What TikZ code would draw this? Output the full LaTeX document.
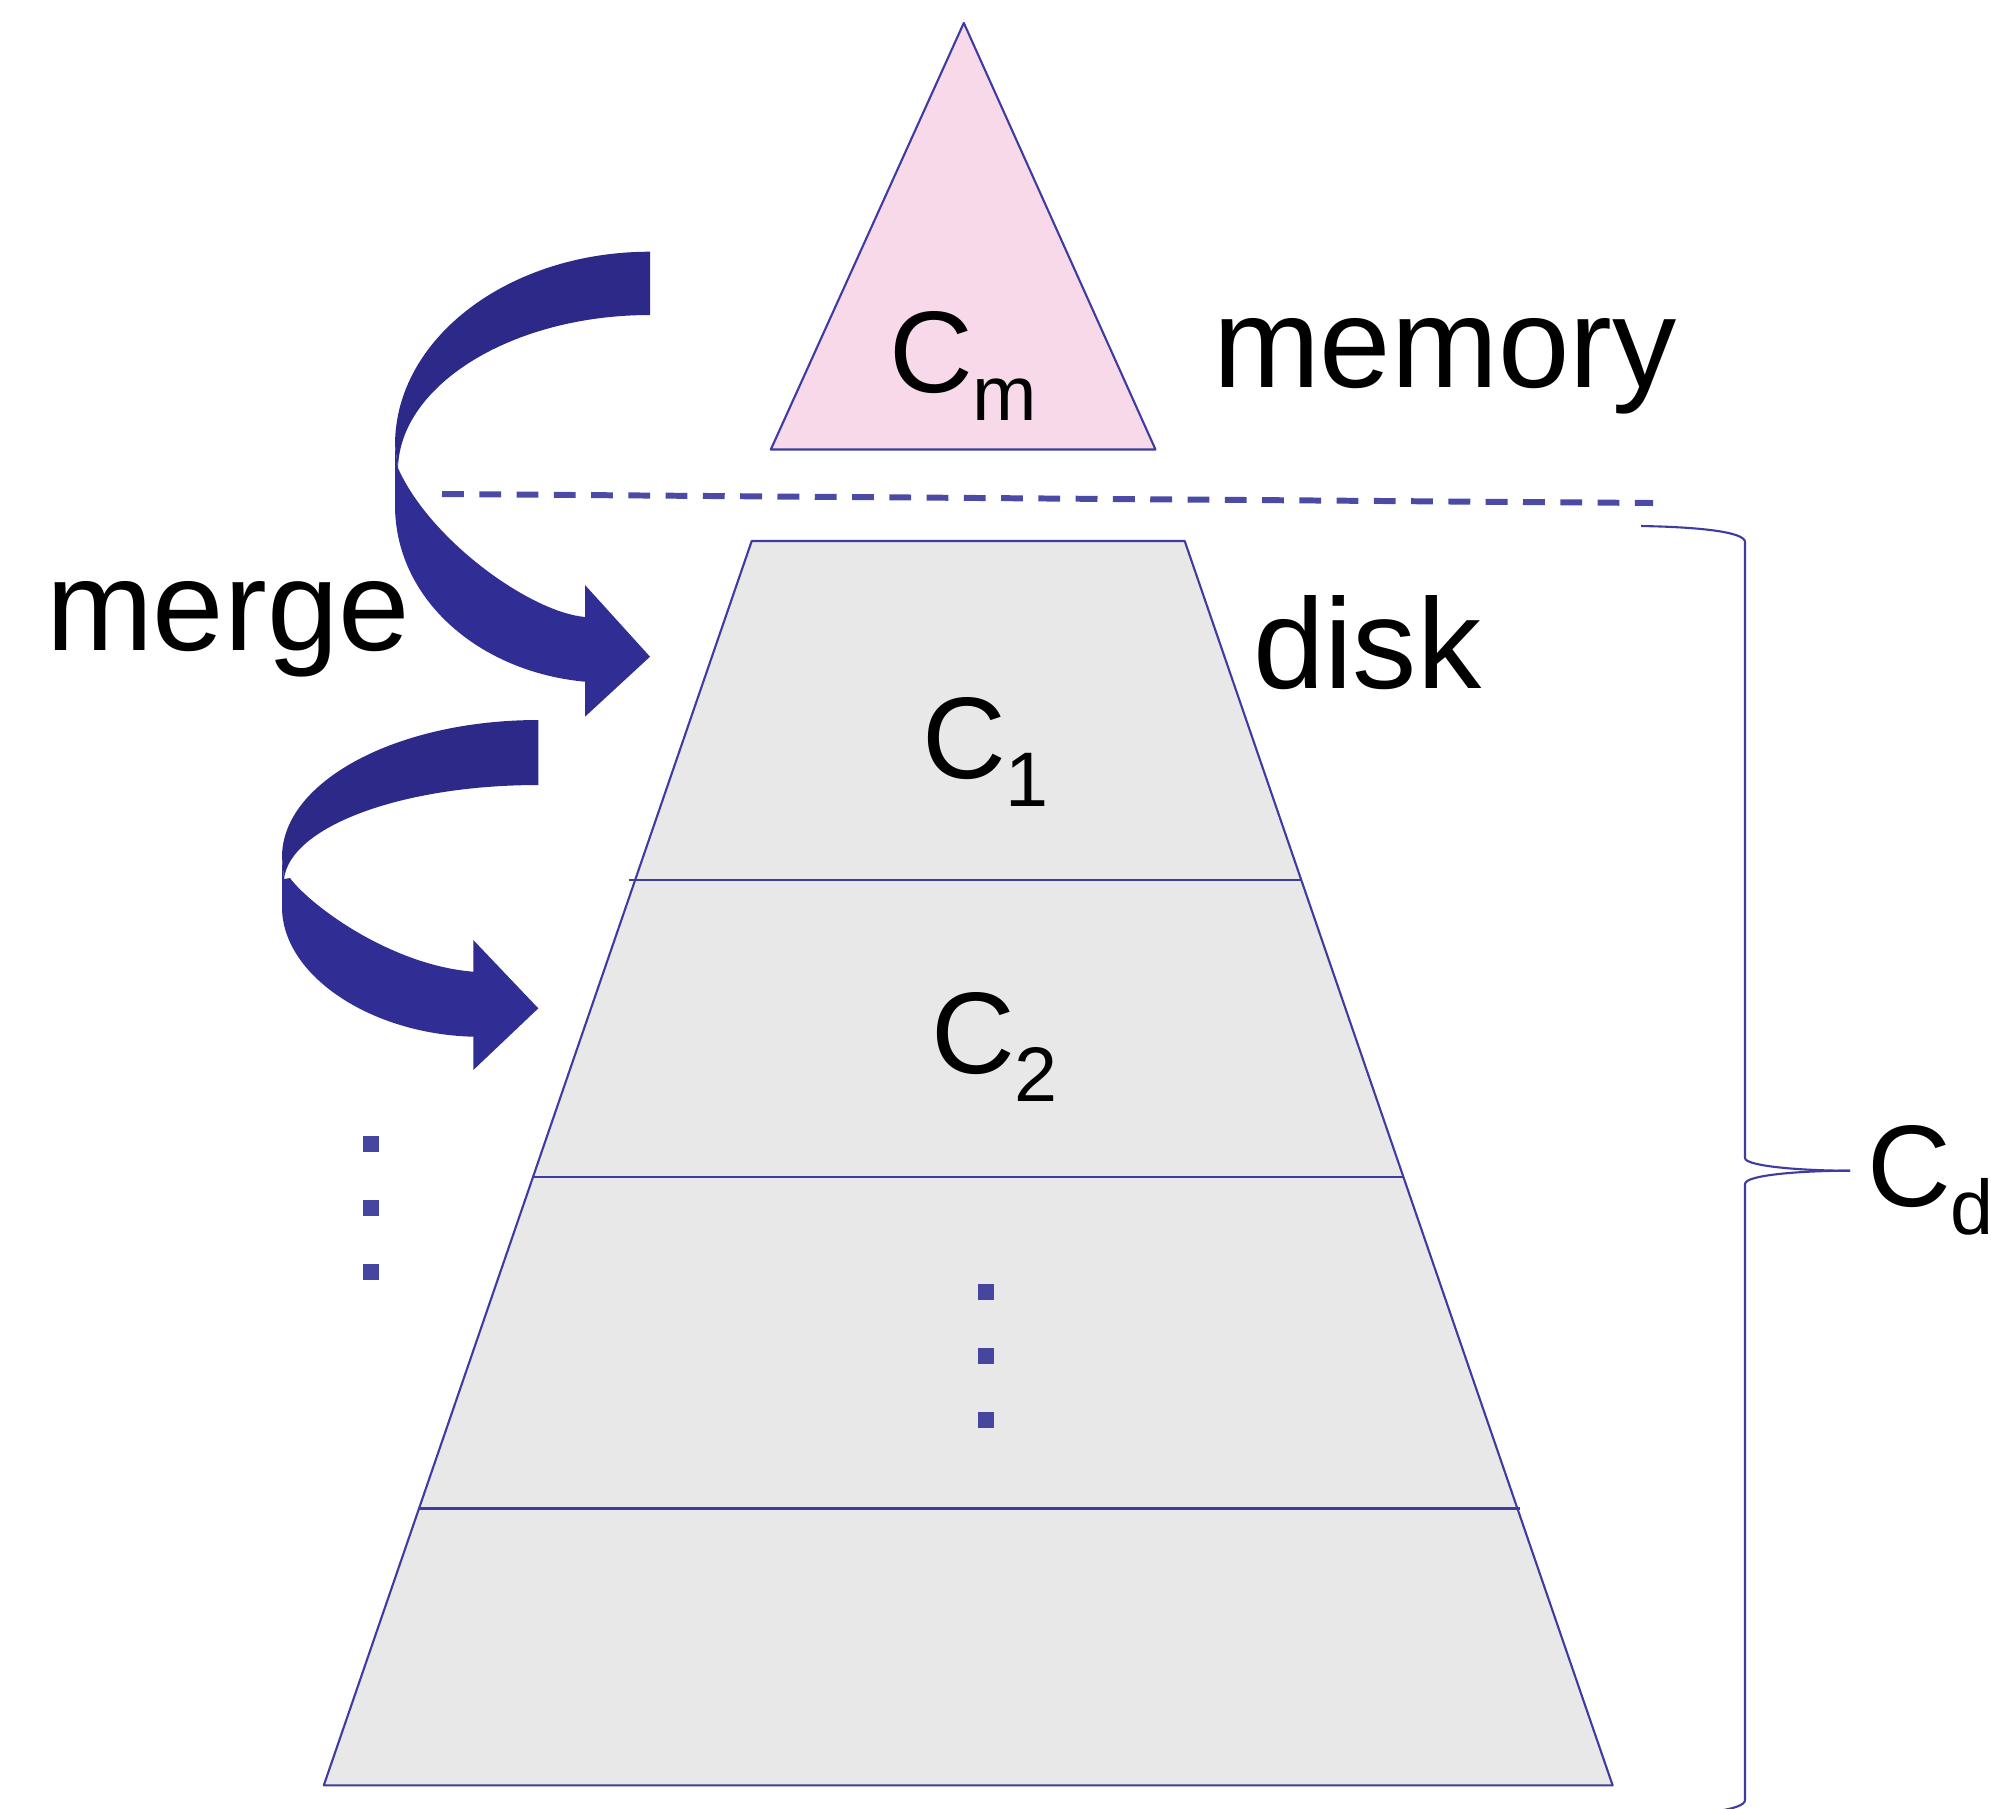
\documentclass[tikz,border=0pt]{standalone}
\usepackage{fontspec}
\setmainfont{Liberation Sans}
\definecolor{edgec}{RGB}{62,60,160}
\definecolor{pinkfill}{RGB}{247,217,234}
\definecolor{grayfill}{RGB}{232,232,232}
\definecolor{arrowA}{RGB}{44,41,136}
\definecolor{arrowB}{RGB}{48,45,148}
\definecolor{dotc}{RGB}{70,70,160}
\definecolor{dashc}{RGB}{75,75,165}
\newcommand{\Clabel}[1]{{\fontsize{33}{33}\selectfont C}\raisebox{-8pt}{\fontsize{22}{22}\selectfont #1}}
\begin{document}
\begin{tikzpicture}[x=0.01cm,y=-0.01cm,
  lbl/.style={anchor=base west,inner sep=0pt,outer sep=0pt},
  biglbl/.style={lbl,font=\fontsize{36.5}{36.5}\selectfont},
  outline/.style={draw=edgec,line width=0.6pt,line join=round},
  ribbonA/.style={fill=arrowA},
  ribbonB/.style={fill=arrowB},
  dotsq/.style={fill=dotc},
  sep/.style={draw=dashc,line width=1.7pt,dash pattern=on 6.2pt off 4.4pt}
  ]
\useasboundingbox (0,0) rectangle (1991,1808);

% memory triangle
\filldraw[outline,fill=pinkfill] (963.8,22.9) -- (1155.5,449.5) -- (770.8,449.5) -- cycle;

% separator
\draw[sep] (442,494) -- (1653,503);

% disk trapezoid
\filldraw[outline,fill=grayfill] (751.7,541) -- (1184.7,541) -- (1612.6,1785.3) -- (323.8,1785.3) -- cycle;
\draw[outline] (629,880) -- (1302,880);
\draw[outline] (533,1177) -- (1403,1177);
\draw[outline] (419,1508.5) -- (1520,1508.5);

% dots
\fill[dotsq] (363.3,1136) rectangle ++(16,16);
\fill[dotsq] (363.3,1200) rectangle ++(16,16);
\fill[dotsq] (363.3,1264) rectangle ++(16,16);
\fill[dotsq] (978,1284.3) rectangle ++(16,16);
\fill[dotsq] (978,1348.3) rectangle ++(16,16);
\fill[dotsq] (978,1412.3) rectangle ++(16,16);

% arrow 1
\fill[ribbonA] (650,251.7) .. controls (509,251.7) and (395,338) .. (395,445)
  -- (398,468) .. controls (400,385) and (512,315) .. (650,315) -- cycle;
\fill[ribbonB] (398,468) -- (395,445) -- (395,505)
  .. controls (395,600) and (480,672) .. (585,681.7)
  -- (585,716.7) -- (650,656.7) -- (585,585) -- (585,617)
  .. controls (530,612) and (430,540) .. (398,468) -- cycle;

% arrow 2
\fill[ribbonA] (538.3,720) .. controls (396.8,720) and (282,781.4) .. (282,857)
  -- (284,879) .. controls (290,826.7) and (401.3,785) .. (538.3,785) -- cycle;
\fill[ribbonB] (284,879) -- (282,857) -- (282,907)
  .. controls (282,975) and (370,1034) .. (473.3,1036.7)
  -- (473.3,1070) -- (538.3,1008.3) -- (473.3,940) -- (473.3,971.7)
  .. controls (390,965) and (310,905) .. (290,878) -- cycle;

% brace
\draw[outline] (1641,526) .. controls (1700,527) and (1745,532) .. (1745,542)
  -- (1745,1158) .. controls (1745,1166) and (1800,1170.7) .. (1850,1170.7);
\draw[outline] (1850,1170.7) .. controls (1800,1170.7) and (1745,1175) .. (1745,1184)
  -- (1745,1800) .. controls (1745,1810) and (1700,1815) .. (1641,1816);

% labels
\node[biglbl] (merge) at (46,650) {merge};
\node[biglbl] (memory) at (1213,387) {memory};
\node[biglbl] (disk) at (1253,688) {disk};
\node[lbl] (cm) at (889,392) {\Clabel{m}};
\node[lbl] (c1) at (922,778) {\Clabel{1}};
\node[lbl] (c2) at (931,1073) {\Clabel{2}};
\node[lbl] (cd) at (1867,1206) {\Clabel{d}};
\end{tikzpicture}
\end{document}
